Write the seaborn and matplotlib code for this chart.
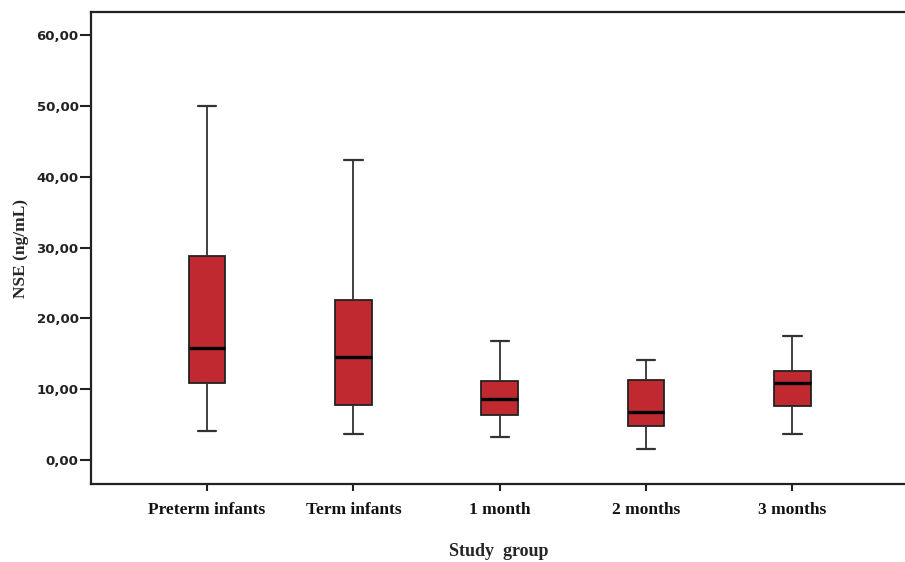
import numpy as np
import pandas as pd
import matplotlib
matplotlib.use("Agg")
import matplotlib.pyplot as plt
import seaborn as sns

# five-number summaries (min, Q1, median, Q3, max)
groups = ["Preterm infants", "Term infants", "1 month", "2 months", "3 months"]
preterm = [4.1, 10.9, 15.8, 28.8, 50.0]
term = [3.7, 7.8, 14.5, 22.6, 42.4]
month_1 = [3.2, 6.4, 8.6, 11.2, 16.8]
month_2 = [1.6, 4.8, 6.8, 11.3, 14.1]
month_3 = [3.7, 7.6, 10.9, 12.6, 17.5]
y_ticks = [0, 10, 20, 30, 40, 50, 60]
y_tick_labels = ["0,00", "10,00", "20,00", "30,00", "40,00", "50,00", "60,00"]

rows = []
for name, vals in zip(groups, [preterm, term, month_1, month_2, month_3]):
    for v in vals:
        rows.append({"group": name, "nse": v})
df = pd.DataFrame(rows)

sns.set_style("white")
fig = plt.figure(figsize=(9.05, 5.62), dpi=100)
ax = fig.add_axes([0.1006, 0.1388, 0.9, 0.839])

sns.boxplot(data=df, x="group", y="nse", order=groups, ax=ax,
            color="#C0292F", saturation=1, width=0.25, whis=(0, 100),
            linecolor="#222222", linewidth=1.3,
            medianprops=dict(color="black", linewidth=2.4),
            whiskerprops=dict(color="#333333", linewidth=1.3),
            capprops=dict(color="#333333", linewidth=1.6))

ax.set_xlim(-0.793, 4.773)
ax.set_ylim(-3.4, 63.2)
ax.set_yticks(y_ticks)
ax.set_yticklabels(y_tick_labels, fontfamily="DejaVu Sans", fontweight="bold",
                   fontsize=9.5, color="#222222")
ax.set_xticks(range(len(groups)))
ax.set_xticklabels(groups, fontfamily="Liberation Serif", fontweight="bold",
                   fontsize=12.5, color="#111111")
ax.tick_params(axis="y", direction="out", length=8, width=1.5, color="#222222", pad=1, left=True)
ax.tick_params(axis="x", direction="out", length=5, width=1.5, color="#222222", pad=8, bottom=True)

for side in ["left", "bottom", "top"]:
    ax.spines[side].set_visible(True)
    ax.spines[side].set_color("#222222")
    ax.spines[side].set_linewidth(1.6)
ax.spines["right"].set_visible(False)

ax.set_xlabel("Study  group", fontfamily="Liberation Serif", fontweight="bold",
              fontsize=13)
ax.xaxis.set_label_coords(0.5, -0.125)
ax.set_ylabel("NSE (ng/mL)", fontfamily="Liberation Serif", fontweight="bold",
              fontsize=12.5, labelpad=5)

fig.savefig("out.png", dpi=100)
